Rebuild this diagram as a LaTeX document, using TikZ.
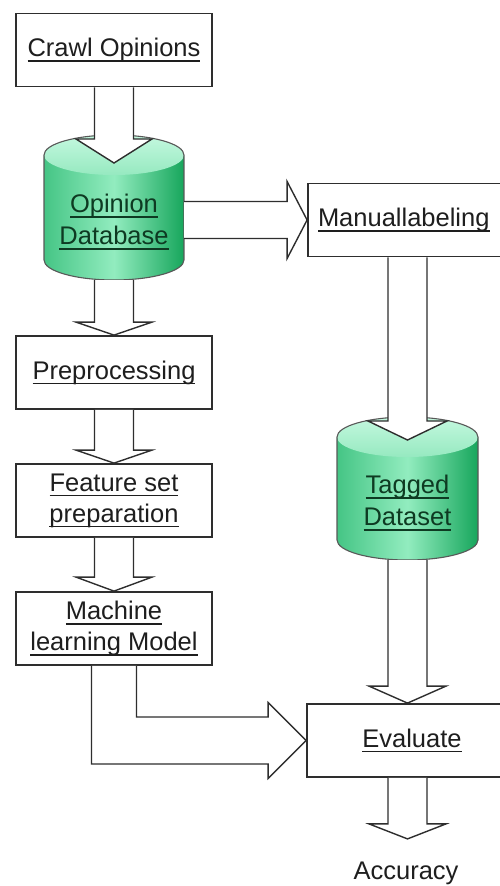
\documentclass[tikz,border=0pt]{standalone}
\usepackage{fontspec}
\setmainfont{Liberation Sans}
\usetikzlibrary{calc}

\definecolor{ink}{HTML}{1E1E1E}
\definecolor{edge}{HTML}{2E2E2E}
\definecolor{dbtext}{HTML}{0E3A22}
\definecolor{cylL}{HTML}{45C585}
\definecolor{cylM}{HTML}{92ECBF}
\definecolor{cylR}{HTML}{17A65C}
\definecolor{capT}{HTML}{C4F8DF}
\definecolor{capB}{HTML}{96E9C0}

% underline that sits at a fixed depth below the baseline
\newcommand\ulin[1]{\setbox0\hbox{#1}\rlap{\rule[-5pt]{\wd0}{1.5pt}}\box0}

\tikzset{
  proc/.style={draw=edge, line width=1.8pt, fill=white, minimum width=196pt,
    minimum height=73pt, inner sep=0pt, text=ink,
    font=\fontsize{25.5}{31}\selectfont, align=center},
  lbl/.style={text=ink, font=\fontsize{25.5}{31}\selectfont, align=center, inner sep=0pt},
  dblbl/.style={lbl, text=dbtext, font=\fontsize{25.5}{32}\selectfont},
  blk/.style={draw=edge, line width=1.4pt, fill=white, line join=miter},
  cylframe/.style={minimum width=140pt, inner sep=0pt, outer sep=0pt},
  cylline/.style={draw=edge!80, line width=1.1pt},
}

% vertical block arrow: start, tip, half shaft, half head, head length
\newcommand\vblock[5]{%
  \filldraw[blk] ($(#2 |- #1)+(-#3,0)$) -- ($(#2)+(-#3,#5)$) -- ($(#2)+(-#4,#5)$)
    -- (#2) -- ($(#2)+(#4,#5)$) -- ($(#2)+(#3,#5)$) -- ($(#2 |- #1)+(#3,0)$);}
% horizontal block arrow: start, tip, half shaft, half head, head length
\newcommand\hblock[5]{%
  \filldraw[blk] ($(#2 -| #1)+(0,#3)$) -- ($(#2)+(-#5,#3)$) -- ($(#2)+(-#5,#4)$)
    -- (#2) -- ($(#2)+(-#5,-#4)$) -- ($(#2)+(-#5,-#3)$) -- ($(#2 -| #1)+(0,-#3)$);}
% database drum inside a frame node: node name, x radius, y radius
\newcommand\drum[3]{%
  \shade[left color=cylL, right color=cylR, middle color=cylM]
    ($(#1.north west)+(0,-#3)$) -- ($(#1.south west)+(0,#3)$)
    arc[start angle=180, end angle=360, x radius=#2, y radius=#3]
    -- ($(#1.north east)+(0,-#3)$) -- cycle;
  \shade[top color=capT, bottom color=capB] ($(#1.north)+(0,-#3)$)
    ellipse[x radius=#2, y radius=#3];
  \draw[cylline] ($(#1.north west)+(0,-#3)$) -- ($(#1.south west)+(0,#3)$)
    arc[start angle=180, end angle=360, x radius=#2, y radius=#3]
    -- ($(#1.north east)+(0,-#3)$)
    arc[start angle=0, end angle=180, x radius=#2, y radius=#3] -- cycle;}

\begin{document}
\begin{tikzpicture}[x=1pt, y=1pt]
\useasboundingbox (0,0) rectangle (500,-886);

% frames of the two databases
\node[cylframe, minimum height=145pt] (odb) at (114,-207.5) {};
\node[cylframe, minimum width=141pt, minimum height=143pt] (tagged) at (407.5,-488.5) {};
\drum{odb}{70}{20}
\drum{tagged}{70.5}{20}

% left column of steps
\node[proc] (crawl) at (114,-50) {\ulin{Crawl Opinions}};
\node[proc] (prep) at (114,-372.5) {\ulin{Preprocessing}};
\node[proc] (feat) at (114,-500.5) {\ulin{Feature set}\\\ulin{preparation}};
\node[proc] (ml) at (114,-628.5) {\ulin{Machine}\\\ulin{learning Model}};

% right column of steps
\node[proc, minimum width=220pt, text width=200pt, align=left] (manual) at (418,-220) {\ulin{Manuallabeling}};
\node[proc, minimum width=210pt] (eval) at (412,-740.5) {\ulin{Evaluate}};
\node[lbl] (acc) at (406,-873) {Accuracy};

% tips that end inside or off the centre of a shape
\coordinate (odb-in) at ($(odb.north)+(0,-28)$);
\coordinate (tagged-in) at ($(tagged.north)+(0,-23)$);
\coordinate (eval-in) at (tagged.south |- eval.north);
\coordinate (acc-in) at ($(tagged.south |- eval.south)+(0,-61)$);

% block arrows
\vblock{crawl.south}{odb-in}{19.5}{38}{24}
\vblock{odb.south}{prep.north}{19.5}{38}{13}
\vblock{prep.south}{feat.north}{19.5}{38}{13}
\vblock{feat.south}{ml.north}{19.5}{38}{14}
\hblock{odb.east}{manual.west}{18.5}{38.5}{20}
\vblock{manual.south}{tagged-in}{19.5}{39.5}{19}
\vblock{tagged.south}{eval-in}{19.5}{38.5}{17}
\vblock{eval.south}{acc-in}{19.5}{38.5}{15}
\filldraw[blk] ($(ml.south)+(-22.5,0)$) |- ($(eval.west)+(-38,-23.5)$)
  -- ($(eval.west)+(-38,-38)$) -- (eval.west) -- ($(eval.west)+(-38,38)$)
  -- ($(eval.west)+(-38,23.5)$) -| ($(ml.south)+(22.5,0)$);

% database labels
\node[dblbl] (odb-t) at (114,-222) {\ulin{Opinion}\\\ulin{Database}};
\node[dblbl] (tagged-t) at (407.5,-503) {\ulin{Tagged}\\\ulin{Dataset}};
\end{tikzpicture}
\end{document}
